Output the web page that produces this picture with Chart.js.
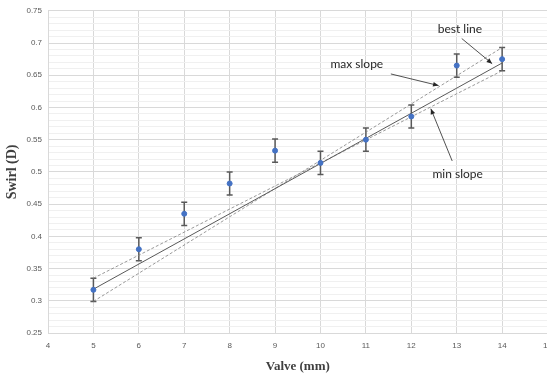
<!DOCTYPE html>
<html>
<head>
<meta charset="utf-8">
<script src="https://cdn.jsdelivr.net/npm/chart.js@4/dist/chart.umd.min.js"></script>
<style>
  html, body { margin: 0; padding: 0; background: #fff; overflow: hidden; }
  #wrap { position: relative; width: 560px; height: 378px; }
</style>
</head>
<body>
<div id="wrap"><canvas id="chart"></canvas></div>
<script>
// measured points (valve size vs swirl)
const valve = [5, 6, 7, 8, 9, 10, 11, 12, 13, 14];
const swirl = [0.317, 0.380, 0.435, 0.482, 0.533, 0.514, 0.550, 0.586, 0.665, 0.675];
const swirlErr = [0.018, 0.018, 0.018, 0.018, 0.018, 0.018, 0.018, 0.018, 0.018, 0.018];

// fitted lines, end points at x = 5 and x = 14
const lineX = [5, 14];
const bestLine = [0.318, 0.669];
const maxSlope = [0.299, 0.693];
const minSlope = [0.335, 0.657];

// axis ticks
const xTicks = [4, 5, 6, 7, 8, 9, 10, 11, 12, 13, 14, 15];
const yMajor = [0.25, 0.3, 0.35, 0.4, 0.45, 0.5, 0.55, 0.6, 0.65, 0.7, 0.75];

// callouts: label, text position, arrow from, arrow to (data units)
const callouts = [
    { text: 'best line', at: [13.07, 0.722], from: [13.11, 0.707], to: [13.78, 0.668] },
    { text: 'max slope', at: [10.8, 0.667], from: [11.55, 0.652], to: [12.6, 0.634] },
    { text: 'min slope', at: [13.02, 0.497], from: [12.9, 0.517], to: [12.43, 0.598] }
];

const toPts = (xs, ys) => xs.map((x, i) => ({ x: x, y: ys[i] }));
const isMajor = v => yMajor.some(m => Math.abs(m - v) < 1e-6);

const errorBars = {
    id: 'errorBars',
    beforeDatasetsDraw(chart) {
        const { ctx, scales: { x, y } } = chart;
        ctx.save();
        ctx.strokeStyle = '#595959';
        ctx.lineWidth = 1.5;
        valve.forEach((v, i) => {
            const px = x.getPixelForValue(v);
            const top = y.getPixelForValue(swirl[i] + swirlErr[i]);
            const bot = y.getPixelForValue(swirl[i] - swirlErr[i]);
            ctx.beginPath();
            ctx.moveTo(px, top); ctx.lineTo(px, bot);
            ctx.moveTo(px - 3, top); ctx.lineTo(px + 3, top);
            ctx.moveTo(px - 3, bot); ctx.lineTo(px + 3, bot);
            ctx.stroke();
        });
        ctx.restore();
    }
};

const labels = {
    id: 'labels',
    afterDraw(chart) {
        const { ctx, scales: { x, y } } = chart;
        ctx.save();
        ctx.fillStyle = '#262626';
        ctx.strokeStyle = '#262626';
        ctx.font = '12px Lato, "Open Sans", sans-serif';
        ctx.textAlign = 'center';
        ctx.textBaseline = 'middle';
        callouts.forEach(c => {
            ctx.fillText(c.text, x.getPixelForValue(c.at[0]), y.getPixelForValue(c.at[1]));
            const x1 = x.getPixelForValue(c.from[0]), y1 = y.getPixelForValue(c.from[1]);
            const x2 = x.getPixelForValue(c.to[0]), y2 = y.getPixelForValue(c.to[1]);
            const a = Math.atan2(y2 - y1, x2 - x1);
            ctx.lineWidth = 0.8;
            ctx.beginPath();
            ctx.moveTo(x1, y1); ctx.lineTo(x2, y2);
            ctx.stroke();
            ctx.beginPath();
            ctx.moveTo(x2, y2);
            ctx.lineTo(x2 - 6 * Math.cos(a - 0.4), y2 - 6 * Math.sin(a - 0.4));
            ctx.lineTo(x2 - 6 * Math.cos(a + 0.4), y2 - 6 * Math.sin(a + 0.4));
            ctx.closePath();
            ctx.fill();
        });
        ctx.restore();
    }
};

new Chart(document.getElementById('chart'), {
    type: 'scatter',
    data: {
        datasets: [
            {
                label: 'Swirl',
                data: toPts(valve, swirl),
                backgroundColor: '#4472c4',
                borderColor: '#4472c4',
                pointRadius: 2.5,
                order: 0
            },
            {
                label: 'best line',
                data: toPts(lineX, bestLine),
                showLine: true,
                borderColor: '#595959',
                borderWidth: 1,
                pointRadius: 0,
                order: 1
            },
            {
                label: 'max slope',
                data: toPts(lineX, maxSlope),
                showLine: true,
                borderColor: '#808080',
                borderWidth: 0.8,
                borderDash: [3, 2],
                pointRadius: 0,
                order: 2
            },
            {
                label: 'min slope',
                data: toPts(lineX, minSlope),
                showLine: true,
                borderColor: '#808080',
                borderWidth: 0.8,
                borderDash: [3, 2],
                pointRadius: 0,
                order: 3
            }
        ]
    },
    options: {
        responsive: true,
        maintainAspectRatio: false,
        animation: false,
        layout: { padding: { top: 3, left: 0, right: 0, bottom: 0 } },
        plugins: {
            legend: { display: false },
            tooltip: { enabled: false }
        },
        scales: {
            x: {
                type: 'linear',
                min: 4,
                max: 15,
                afterBuildTicks: axis => { axis.ticks = xTicks.map(v => ({ value: v })); },
                afterFit: axis => { axis.height = 45; },
                ticks: {
                    color: '#595959',
                    font: { size: 8, family: '"Liberation Sans", Arial, sans-serif' },
                    padding: 8
                },
                grid: { color: '#d9d9d9', lineWidth: 1, drawTicks: false },
                border: { color: '#d9d9d9' },
                title: {
                    display: true,
                    text: 'Valve (mm)',
                    color: '#404040',
                    font: { size: 13, weight: 'bold', family: '"Liberation Serif", "Times New Roman", serif' },
                    padding: { top: 12, bottom: 4 }
                }
            },
            y: {
                min: 0.25,
                max: 0.75,
                afterFit: axis => { axis.width = 48; },
                ticks: {
                    stepSize: 0.01,
                    autoSkip: false,
                    color: '#595959',
                    font: { size: 8, family: '"Liberation Sans", Arial, sans-serif' },
                    padding: 6,
                    callback: v => isMajor(v) ? String(+v.toFixed(2)) : ''
                },
                grid: {
                    drawTicks: false,
                    color: c => isMajor(c.tick.value) ? '#d9d9d9' : '#f0f0f0'
                },
                border: { color: '#d9d9d9' },
                title: {
                    display: true,
                    text: 'Swirl (D)',
                    color: '#404040',
                    font: { size: 14, weight: 'bold', family: '"Liberation Serif", "Times New Roman", serif' },
                    padding: { top: 4, bottom: 8 }
                }
            }
        }
    },
    plugins: [errorBars, labels]
});
</script>
</body>
</html>
